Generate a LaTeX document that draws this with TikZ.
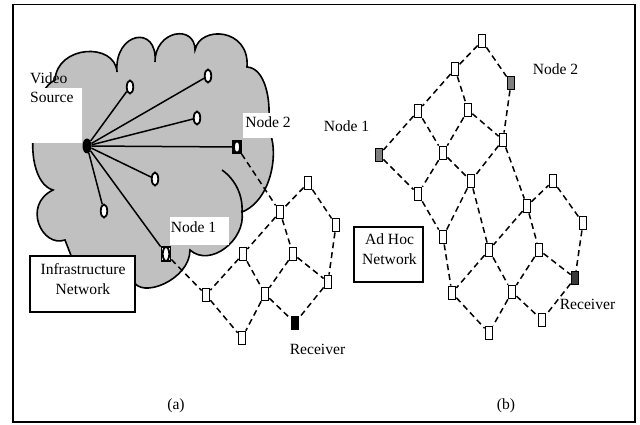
\documentclass[tikz,border=0pt]{standalone}
\usepackage{fontspec}
\setmainfont{Liberation Serif}
\usetikzlibrary{shapes.geometric}
\definecolor{cloudgray}{HTML}{C0C0C0}
\definecolor{nodegray}{HTML}{7F7F7F}
\definecolor{recvdark}{HTML}{3A3A3A}
\begin{document}
\begin{tikzpicture}[x=1pt,y=-1pt,
  sq/.style={draw, rectangle, line width=1.8pt, minimum width=7pt, minimum height=13pt, inner sep=0pt, fill=white},
  ov/.style={draw, ellipse, line width=1.8pt, minimum width=6.5pt, minimum height=13pt, inner sep=0pt, fill=white},
  dl/.style={line width=1.5pt, dash pattern=on 6pt off 4pt},
  sl/.style={line width=1.5pt},
  lbl/.style={font=\fontsize{15.6}{19.5}\selectfont, inner sep=0pt},
  bg/.style={fill=white, inner sep=0pt, anchor=north west},
  txtbox/.style={draw, line width=1.6pt, fill=white, inner sep=0pt, anchor=north west}]
\useasboundingbox (0,0) rectangle (640,425);
\draw[line width=1.6pt] (13,4.5) rectangle (635,422);

% cloud
\draw[line width=1.6pt, fill=cloudgray] (55,80) .. controls (57,45) and (115,42) .. (117,72)
 .. controls (114,32) and (158,24) .. (155,62)
 .. controls (155,30) and (195,24) .. (195,50)
 .. controls (200,25) and (250,28) .. (247,67)
 .. controls (265,68) and (272,100) .. (268,128)
 .. controls (280,150) and (272,200) .. (242,212)
 .. controls (246,240) and (210,268) .. (190,250)
 .. controls (190,280) and (140,300) .. (133,280)
 -- (72,258) -- (65,240)
 .. controls (42,248) and (22,205) .. (53,190)
 .. controls (35,185) and (28,150) .. (36,120)
 .. controls (40,95) and (45,85) .. (55,80) -- cycle;
\draw[line width=1.6pt] (222,170) .. controls (236,180) and (243,196) .. (242,212);

% label backgrounds on the cloud
\node[bg, minimum width=55pt, minimum height=55pt] (vsbg) at (27,88) {};
\node[lbl, anchor=base west, align=left] (vstext) at (30,103) {Video\\Source};
\node[bg, minimum width=50pt, minimum height=25pt] (n2bg) at (243,113) {};
\node[lbl, anchor=base] (n2text) at (268,128) {Node 2};
\node[bg, minimum width=59pt, minimum height=28pt] (n1bg) at (170,217) {};
\node[lbl, anchor=base] (n1text) at (193.5,232) {Node 1};

% infrastructure box
\node[txtbox, minimum width=105pt, minimum height=56pt] (infra) at (29,255) {};
\node[lbl, align=center] (infratext) at (83,279) {Infrastructure\\Network};

% ad hoc box
\node[txtbox, minimum width=69pt, minimum height=55pt] (adhoc) at (353,226) {};
\node[lbl, align=center] (adhoctext) at (389.5,249) {Ad Hoc\\Network};

% (a) infrastructure nodes
\node[ellipse, fill=black, minimum width=9pt, minimum height=15pt, inner sep=0pt] (vs) at (87,146) {};
\node[ov] (o1) at (130,87) {};
\node[ov] (o2) at (208,76) {};
\node[ov] (o3) at (197,118) {};
\node[ov] (o5) at (155,179) {};
\node[ov] (o6) at (104,211) {};
\node[sq, minimum width=8pt, minimum height=12pt] (n2sq) at (237,147) {};
\node[ov, minimum width=6pt, minimum height=12pt] (n2ov) at (237,147) {};
\node[sq, minimum width=9pt, minimum height=14pt] (n1sq) at (166,254) {};
\node[ov, minimum width=6.5pt, minimum height=14pt] (n1ov) at (166,254) {};

\foreach \t in {o1,o2,o3,n2sq,o5,o6,n1sq} \draw[sl] (vs) -- (\t);

% (a) ad hoc nodes
\node[sq] (a1) at (308,183) {};
\node[sq] (a2) at (280,212) {};
\node[sq] (a3) at (336,225) {};
\node[sq] (a4) at (243,254) {};
\node[sq] (a5) at (293,254) {};
\node[sq] (a6) at (328,282) {};
\node[sq] (a7) at (206,295) {};
\node[sq] (a8) at (265,294) {};
\node[sq, fill=black] (ra) at (295,323) {};
\node[sq] (a9) at (242,338) {};

\foreach \s/\t in {n2sq/a2, a1/a2, a1/a3, a2/a4, a2/a5, a3/a6, a4/a7, a4/a8, a5/a8, a5/a6, a6/ra, a8/ra, a7/a9, a8/a9, n1sq/a7}
  \draw[dl] (\s) -- (\t);

\node[lbl, anchor=base] (recvA) at (317.5,354) {Receiver};

% (b) nodes
\node[sq] (b1) at (482,41) {};
\node[sq] (b2) at (455,69) {};
\node[sq, fill=nodegray] (n2b) at (511,83) {};
\node[sq] (b3) at (418,111) {};
\node[sq] (b4) at (468,110) {};
\node[sq, fill=nodegray] (n1b) at (379,155) {};
\node[sq] (b5) at (503,140) {};
\node[sq] (b6) at (443,153) {};
\node[sq] (b7) at (471,181) {};
\node[sq] (b8) at (418,194) {};
\node[sq] (b9) at (553,181) {};
\node[sq] (b10) at (527,206) {};
\node[sq] (b11) at (583,223) {};
\node[sq] (b12) at (443,237) {};
\node[sq] (b13) at (489,250) {};
\node[sq] (b14) at (539,250) {};
\node[sq, fill=recvdark] (rb) at (575,278) {};
\node[sq] (b15) at (452,293) {};
\node[sq] (b16) at (512,292) {};
\node[sq] (b17) at (542,320) {};
\node[sq] (b18) at (489,333) {};

\foreach \s/\t in {b1/b2, b1/n2b, b2/b3, b2/b4, n2b/b5, b3/n1b, b3/b6, b4/b6, b4/b5, n1b/b8, b6/b8, b6/b7, b5/b7, b5/b10, b7/b12, b7/b13, b8/b12, b10/b9, b9/b11, b10/b13, b10/b14, b11/rb, b12/b15, b13/b15, b13/b16, b14/b16, b14/rb, rb/b17, b16/b17, b15/b18, b16/b18}
  \draw[dl] (\s) -- (\t);

\node[lbl, anchor=base] (n2blbl) at (555.5,75) {Node 2};
\node[lbl, anchor=base] (n1blbl) at (346.5,132) {Node 1};
\node[lbl, anchor=base] (recvB) at (587.5,309) {Receiver};

\node[lbl, anchor=base] (capa) at (176,409.5) {(a)};
\node[lbl, anchor=base] (capb) at (506,409.5) {(b)};
\end{tikzpicture}
\end{document}
